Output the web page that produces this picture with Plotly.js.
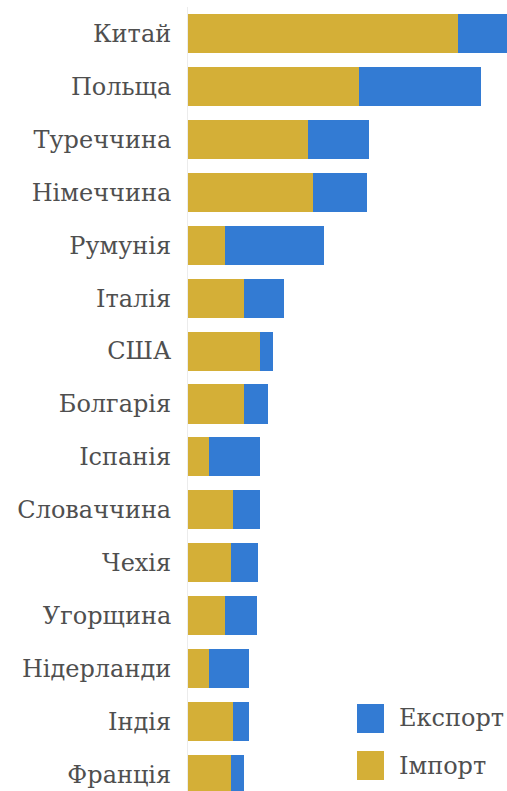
<!DOCTYPE html>
<html>
<head>
<meta charset="utf-8">
<script src="https://cdn.plot.ly/plotly-3.0.1.min.js"></script>
<style>
html,body{margin:0;padding:0;overflow:hidden;background:#fff;}
#chart{width:507px;height:801px;}
</style>
</head>
<body>
<div id="chart"></div>
<script>
const countries = ["Китай","Польща","Туреччина","Німеччина","Румунія","Італія","США","Болгарія","Іспанія","Словаччина","Чехія","Угорщина","Нідерланди","Індія","Франція"];
const importVals = [10.79,6.83,4.79,5.01,1.49,2.25,2.88,2.25,0.85,1.81,1.71,1.49,0.85,1.81,1.71];
const exportVals = [2.30,4.90,2.46,2.14,3.95,1.59,0.53,0.94,2.03,1.05,1.07,1.28,1.59,0.63,0.53];
const seriesNames = ["Імпорт","Експорт"];
const colors = {imp:"#D4AF37", exp:"#337BD3"};

const W = 507, H = 801, ML = 188, MT = 7;
const PW = W - ML, PH = H - MT;
const px = x => (x - ML) / PW;
const py = y => (H - y) / PH;

const traces = [
  {type:"bar", orientation:"h", y:countries, x:importVals, name:seriesNames[0],
   marker:{color:colors.imp}, hoverinfo:"x+y"},
  {type:"bar", orientation:"h", y:countries, x:exportVals, name:seriesNames[1],
   marker:{color:colors.exp}, hoverinfo:"x+y"}
];

const font = {family:"DejaVu Serif, serif", size:24, color:"#4f4f4f"};

const layout = {
  width:W, height:H,
  margin:{l:ML, r:0, t:MT, b:0, pad:0},
  barmode:"stack",
  bargap:0.263,
  showlegend:false,
  paper_bgcolor:"#fff", plot_bgcolor:"#fff",
  font:font,
  xaxis:{range:[0, PW/25], showgrid:false, zeroline:false, showticklabels:false, showline:false, fixedrange:true},
  yaxis:{autorange:"reversed", showgrid:false, zeroline:false, showline:true, linecolor:"#ececec", linewidth:1,
         ticks:"", ticklabelstandoff:11, tickfont:font, fixedrange:true},
  shapes:[
    {type:"rect", xref:"paper", yref:"paper", x0:px(357), x1:px(384), y0:py(733), y1:py(704), fillcolor:colors.exp, line:{width:0}},
    {type:"rect", xref:"paper", yref:"paper", x0:px(357), x1:px(384), y0:py(780), y1:py(751), fillcolor:colors.imp, line:{width:0}}
  ],
  annotations:[
    {xref:"paper", yref:"paper", x:px(397), y:py(718), text:seriesNames[1], showarrow:false, xanchor:"left", yanchor:"middle", font:font},
    {xref:"paper", yref:"paper", x:px(397), y:py(766), text:seriesNames[0], showarrow:false, xanchor:"left", yanchor:"middle", font:font}
  ]
};

Plotly.newPlot("chart", traces, layout, {displayModeBar:false, staticPlot:true});
</script>
</body>
</html>
